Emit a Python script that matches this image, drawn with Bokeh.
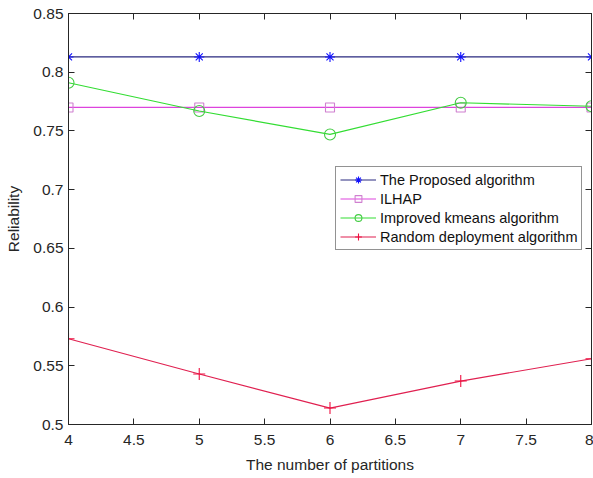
from bokeh.plotting import figure
from bokeh.models import LinearAxis, Range1d, Legend, LegendItem, FixedTicker
from bokeh.embed import file_html
from bokeh.resources import INLINE

# Reliability versus number of partitions
partitions = [4, 5, 6, 7, 8]
proposed = [0.813, 0.813, 0.813, 0.813, 0.813]
ilhap = [0.770, 0.770, 0.770, 0.770, 0.770]
kmeans = [0.791, 0.767, 0.747, 0.774, 0.771]
random_dep = [0.573, 0.543, 0.514, 0.537, 0.556]

x_ticks = [4, 4.5, 5, 5.5, 6, 6.5, 7, 7.5, 8]
y_ticks = [0.5, 0.55, 0.6, 0.65, 0.7, 0.75, 0.8, 0.85]

FONT = "Liberation Sans"
AX = "#262626"

p = figure(width=593, height=478, output_backend="svg", toolbar_location=None,
           x_range=Range1d(4, 8), y_range=Range1d(0.5, 0.85),
           min_border_left=68, min_border_right=2, min_border_top=13,
           min_border_bottom=54, background_fill_color="white",
           border_fill_color="white", outline_line_color=AX)
p.grid.visible = False


def style_axis(ax, ticks, show_labels=True):
    ax.ticker = FixedTicker(ticks=ticks)
    ax.major_tick_in = 6
    ax.major_tick_out = 0
    ax.minor_tick_line_color = None
    ax.axis_line_color = AX
    ax.major_tick_line_color = AX
    ax.major_label_text_font = FONT
    ax.major_label_text_font_size = "15.5px"
    if show_labels:
        ax.major_label_text_color = AX
        ax.major_label_standoff = 5
    else:
        # tick marks only on the mirrored frame sides
        ax.major_label_text_color = None
        ax.major_label_standoff = 0


style_axis(p.xaxis[0], x_ticks)
style_axis(p.yaxis[0], y_ticks)
p.xaxis[0].major_label_standoff = 10
p.xaxis[0].axis_label = "The number of partitions"
p.yaxis[0].axis_label = "Reliability"
for ax in (p.xaxis[0], p.yaxis[0]):
    ax.axis_label_text_font = FONT
    ax.axis_label_text_font_size = "15.5px"
    ax.axis_label_text_font_style = "normal"
    ax.axis_label_text_color = AX
    ax.axis_label_standoff = 6
p.xaxis[0].axis_label_standoff = 8
p.yaxis[0].axis_label_standoff = 8

top = LinearAxis()
right = LinearAxis()
style_axis(top, x_ticks, show_labels=False)
style_axis(right, y_ticks, show_labels=False)
p.add_layout(top, "above")
p.add_layout(right, "right")

series = [
    ("The Proposed algorithm", proposed, "#2a2a80", "#1010ff", "asterisk", 10),
    ("ILHAP", ilhap, "#dd44dd", "#d080d0", "square", 9),
    ("Improved kmeans algorithm", kmeans, "#33dd33", "#44cc44", "circle", 11),
    ("Random deployment algorithm", random_dep, "#e02050", "#ee1040", "cross", 12),
]

items = []
for name, vals, lc, mc, marker, size in series:
    r1 = p.line(partitions, vals, line_color=lc, line_width=1.2)
    r2 = p.scatter(partitions, vals, marker=marker, size=size, line_color=mc,
                   fill_color=None, line_width=1.1)
    items.append(LegendItem(label=name, renderers=[r1, r2]))

legend = Legend(items=items, location=(267, 174), label_text_font=FONT,
                label_text_font_size="14.5px", label_text_color="#111111",
                glyph_width=36, glyph_height=17, label_height=17,
                spacing=2, padding=4, margin=0, label_standoff=4,
                border_line_color=AX, background_fill_alpha=1)
p.add_layout(legend, "center")

open("out.html", "w").write(file_html(p, INLINE))
